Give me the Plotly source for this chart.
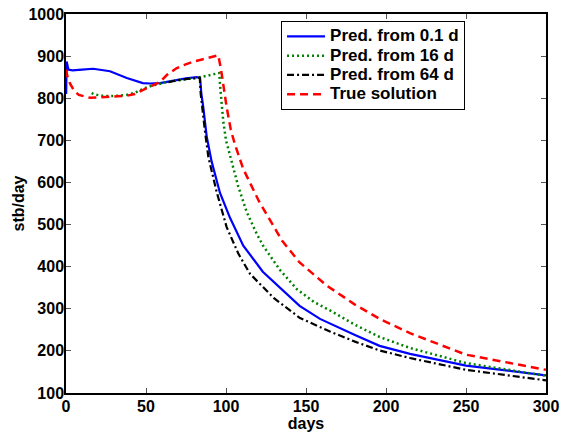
import plotly.graph_objects as go

# ---- data ----
blue_days = [0.1, 0.4, 1.5, 4, 10, 17, 27.5, 38, 48, 52.5, 58.8, 64, 69, 75, 81.7, 83.8,
             84.6, 85.8, 87.9, 91, 96.25, 102.5, 110.8, 123, 146, 158.75, 180.6, 196, 215, 250, 300]
blue_vals = [810, 887, 868, 866, 868, 870, 864, 848, 836, 835, 836, 840, 844, 847, 850, 848,
             810, 779, 710, 650, 575, 516, 450, 388, 307, 276, 238, 212, 193, 165, 142]

green_days = [16, 18, 22, 27.5, 33, 38, 43, 48, 53, 58.8, 64, 69, 75, 82.7, 89, 95.8,
              96.3, 97.3, 98.3, 100, 102, 104.6, 107.7, 112.9, 119.2, 123.3, 133.75, 144.2,
              155, 165, 180.6, 196, 215, 250, 300]
green_vals = [812, 809, 806, 805, 806, 808, 813, 822, 829, 835, 839, 842, 845, 849, 854, 860,
              830, 790, 745, 700, 672, 630, 590, 530, 478, 449, 392, 347,
              316, 296, 262, 233, 207, 171, 141]

black_days = [64, 66, 70, 76, 82, 83.6, 84.2, 85, 86.9, 89, 94.2, 100.4, 107.7, 115, 130,
              146.25, 165, 180.6, 196, 215, 250, 300]
black_vals = [838, 840, 843, 846, 849, 849, 810, 779, 720, 660, 577, 494, 431, 383, 325,
              278, 246, 222, 201, 183, 155, 130]

red_days = [0, 1, 2.5, 5, 8, 12, 15, 20, 27.5, 33, 38, 43, 48, 53, 58.8, 63, 69, 74, 79.6,
            85, 90, 95.2, 96.3, 97.3, 100.4, 103, 105.6, 110.8, 120.5, 130, 135, 146, 163,
            180.6, 196, 215, 250, 300]
red_vals = [868, 850, 835, 818, 808, 803, 801, 802, 804, 805, 806, 810, 819, 827, 839, 855, 871,
            879, 887, 892, 897, 902, 880, 858, 779, 725, 690, 632, 556, 495, 462, 410, 355,
            310, 276, 242, 191, 155]

series_names = ["Pred. from 0.1 d", "Pred. from 16 d", "Pred. from 64 d", "True solution"]

x_ticks = [0, 50, 100, 150, 200, 250, 300]
y_ticks = [100, 200, 300, 400, 500, 600, 700, 800, 900, 1000]

# ---- figure ----
FONT = "Liberation Sans"


def legend_label(txt):
    return '<span style="font-size:17px">' + txt + '</span>'


fig = go.Figure()
fig.add_trace(go.Scatter(x=blue_days, y=blue_vals, mode="lines", name=legend_label(series_names[0]),
                         line=dict(color="#0000FF", width=2.2, dash="solid")))
fig.add_trace(go.Scatter(x=green_days, y=green_vals, mode="lines", name=legend_label(series_names[1]),
                         line=dict(color="#008000", width=2.5, dash="2px,3px")))
fig.add_trace(go.Scatter(x=black_days, y=black_vals, mode="lines", name=legend_label(series_names[2]),
                         line=dict(color="#000000", width=2.2, dash="7px,3px,2px,3px")))
fig.add_trace(go.Scatter(x=red_days, y=red_vals, mode="lines", name=legend_label(series_names[3]),
                         line=dict(color="#FF0000", width=2.5, dash="8px,5px")))

axis_common = dict(
    showline=True, linecolor="black", linewidth=1.5, mirror="ticks",
    ticks="inside", ticklen=5, tickwidth=1, tickcolor="#555555",
    showgrid=False, zeroline=False, automargin=False, ticklabeloverflow="allow",
    tickfont=dict(family=FONT, size=16, color="black", weight="bold"),
)

fig.update_xaxes(range=[0, 300], tickvals=x_ticks, ticktext=[str(v) for v in x_ticks],
                 ticklabelstandoff=-2,
                 title=dict(text="days", font=dict(family=FONT, size=16, color="black", weight="bold"),
                            standoff=0),
                 **axis_common)
fig.update_yaxes(range=[100, 1000], tickvals=y_ticks, ticktext=[str(v) for v in y_ticks],
                 ticklabelstandoff=-3,
                 title=dict(text="stb/day", font=dict(family=FONT, size=16, color="black", weight="bold"),
                            standoff=0),
                 **axis_common)

fig.update_layout(
    width=562, height=436,
    margin=dict(l=66, r=16, t=14, b=43),
    paper_bgcolor="white", plot_bgcolor="white",
    showlegend=True,
    legend=dict(x=0.448, y=0.982, xanchor="left", yanchor="top",
                bgcolor="white", bordercolor="black", borderwidth=1,
                font=dict(family=FONT, size=12.5, color="black", weight="bold"),
                tracegroupgap=0, itemwidth=38),
    font=dict(family=FONT, color="black"),
)

# remove the default page margin so the figure sits at the window's top-left corner
fig.write_html("out.html", config={"displayModeBar": False},
               post_script="document.body.style.margin='0';")
